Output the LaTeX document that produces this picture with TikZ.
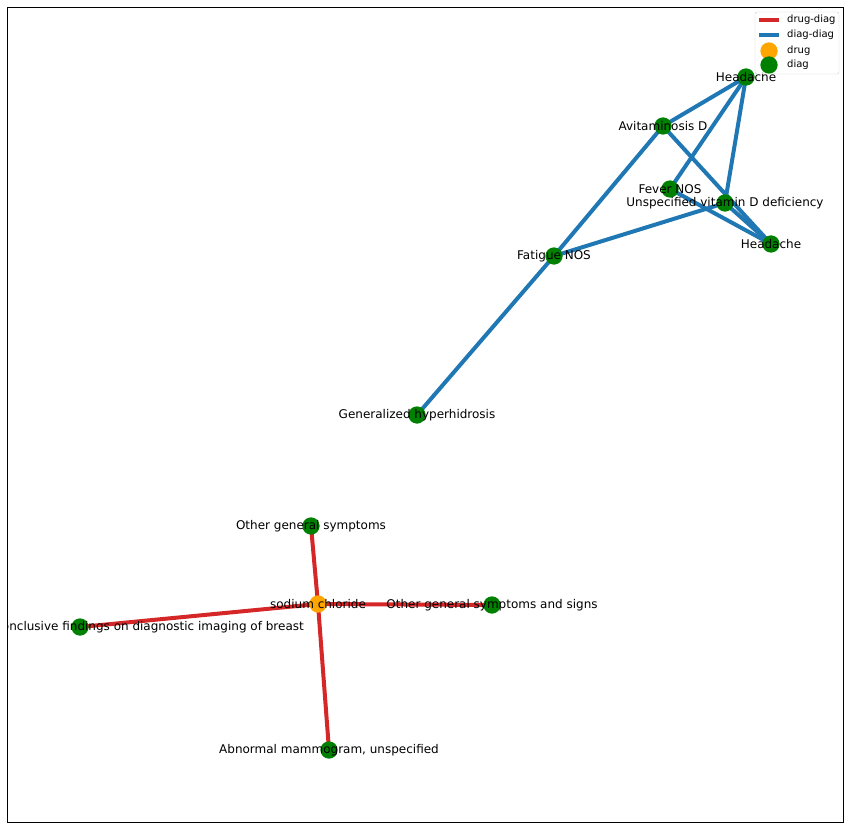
\documentclass[tikz,border=0pt]{standalone}
\usepackage{fontspec}
\setmainfont{DejaVu Sans}
\usetikzlibrary{backgrounds}
\definecolor{tabred}{HTML}{D62728}
\definecolor{tabblue}{HTML}{1F77B4}
\definecolor{nxorange}{HTML}{FFA500}
\definecolor{nxgreen}{HTML}{008000}

\begin{document}
\begin{tikzpicture}[x=1pt,y=-1pt,
    diagnode/.style={circle,fill=nxgreen,minimum size=17.3pt,inner sep=0pt},
    drugnode/.style={circle,fill=nxorange,minimum size=17.3pt,inner sep=0pt},
    nodetext/.style={inner sep=0pt,font=\fontsize{12}{14}\selectfont},
    legtext/.style={inner sep=0pt,anchor=west,font=\fontsize{10}{12}\selectfont},
    drugedge/.style={line width=4pt,tabred},
    diagedge/.style={line width=4pt,tabblue}]
    \useasboundingbox (0,0) rectangle (851,829);

    \begin{scope}
    \clip (7,7) rectangle (843,822);
    % diag nodes
    \foreach \n/\x/\y/\dx/\txt in {h1/746/77/0/{Headache},avit/663/126/0/{Avitaminosis D},fever/670/189/0/{Fever NOS},
        vitd/725/203/0/{Unspecified vitamin D deficiency},h2/771/244/0/{Headache},fatigue/554/256/0/{Fatigue NOS},
        hyper/417/415/0/{Generalized hyperhidrosis},ogs/311/526/0/{Other general symptoms},
        ogss/492/605/0/{Other general symptoms and signs},incl/80/627/64/{Inconclusive findings on diagnostic imaging of breast},
        mammo/329/750/0/{Abnormal mammogram, unspecified}} {
        \node[diagnode,label={[nodetext,xshift=\dx pt]center:\txt}] (\n) at (\x,\y) {};
    }
    % drug node
    \node[drugnode,label={[nodetext]center:sodium chloride}] (nacl) at (318,604) {};
    \end{scope}

    % edges
    \begin{pgfonlayer}{background}
        \foreach \a/\b in {h1/avit,h1/fever,h1/vitd,avit/fatigue,avit/h2,fever/h2,vitd/h2,fatigue/vitd,fatigue/hyper}
            \draw[diagedge] (\a.center) -- (\b.center);
        \foreach \b in {ogs,ogss,incl,mammo}
            \draw[drugedge] (nacl.center) -- (\b.center);
    \end{pgfonlayer}

    % frame
    \draw[line width=0.8pt] (7,7) rectangle (843,822);

    % legend
    \draw[rounded corners=2pt,draw=black!20,fill=white,fill opacity=0.8] (755,12) rectangle (839,74);
    \draw[drugedge] (759,20) -- (779,20);
    \draw[diagedge] (759,35) -- (779,35);
    \fill[nxorange] (769,51) circle (8.65);
    \fill[nxgreen] (769,65) circle (8.65);
    \node[legtext] (ldd) at (787,20) {drug-diag};
    \node[legtext] (lgg) at (787,35) {diag-diag};
    \node[legtext] (ldr) at (787,51) {drug};
    \node[legtext] (ldi) at (787,65) {diag};
\end{tikzpicture}
\end{document}
